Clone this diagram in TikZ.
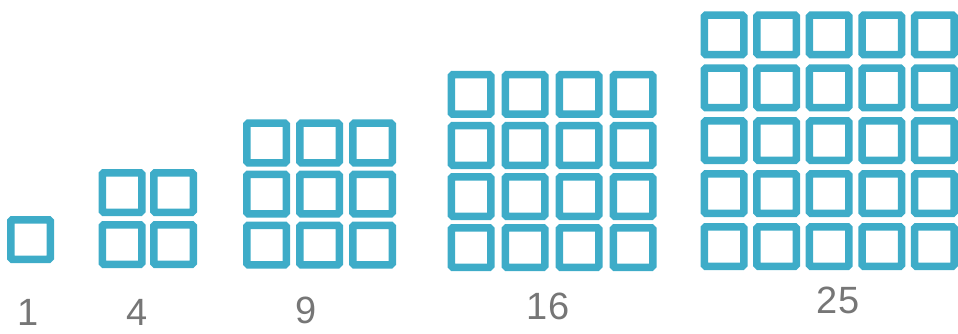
\documentclass[tikz,border=0pt]{standalone}
\usepackage{fontspec}
\setmainfont{Liberation Sans}
\usepackage{tikz}
\usetikzlibrary{positioning}
\usepackage{xcolor}
\definecolor{crayonblue}{RGB}{62,172,200}
\definecolor{pencilgray}{RGB}{118,118,118}
\tikzset{
  tile/.style  ={rectangle, draw=crayonblue, line width=7.5pt, minimum size=39.5pt,
                 inner sep=0pt, rounded corners=1.5pt},
  count/.style ={text=pencilgray, font=\fontsize{38}{38}\selectfont, inner sep=0pt},
}

\begin{document}
\begin{tikzpicture}[x=1pt, y=-1pt]
  \useasboundingbox (0,0) rectangle (958,334);
  % n x n grid, lower left tile centred at (\x,\y), pitch \px / \py
  \foreach \n/\x/\y/\px/\py in {1/30.5/239.5/52/52, 2/122/244.5/51.5/52,
                               3/266.5/245/53/51, 4/471/247.5/54/51,
                               5/724/246.5/52.6/52.9} {
    \foreach \i in {1,...,\n}
      \foreach \j in {1,...,\n}
        \node[tile] (t\n-\i-\j) at ({\x+(\i-1)*\px}, {\y-(\j-1)*\py}) {};
  }
  \node[count] (c1)  at (28,312)  {1};
  \node[count] (c4)  at (137,312) {4};
  \node[count] (c9)  at (306,310) {9};
  \node[count] (c16) at (548,306) {16};
  \node[count] (c25) at (838,300) {25};
\end{tikzpicture}
\end{document}
